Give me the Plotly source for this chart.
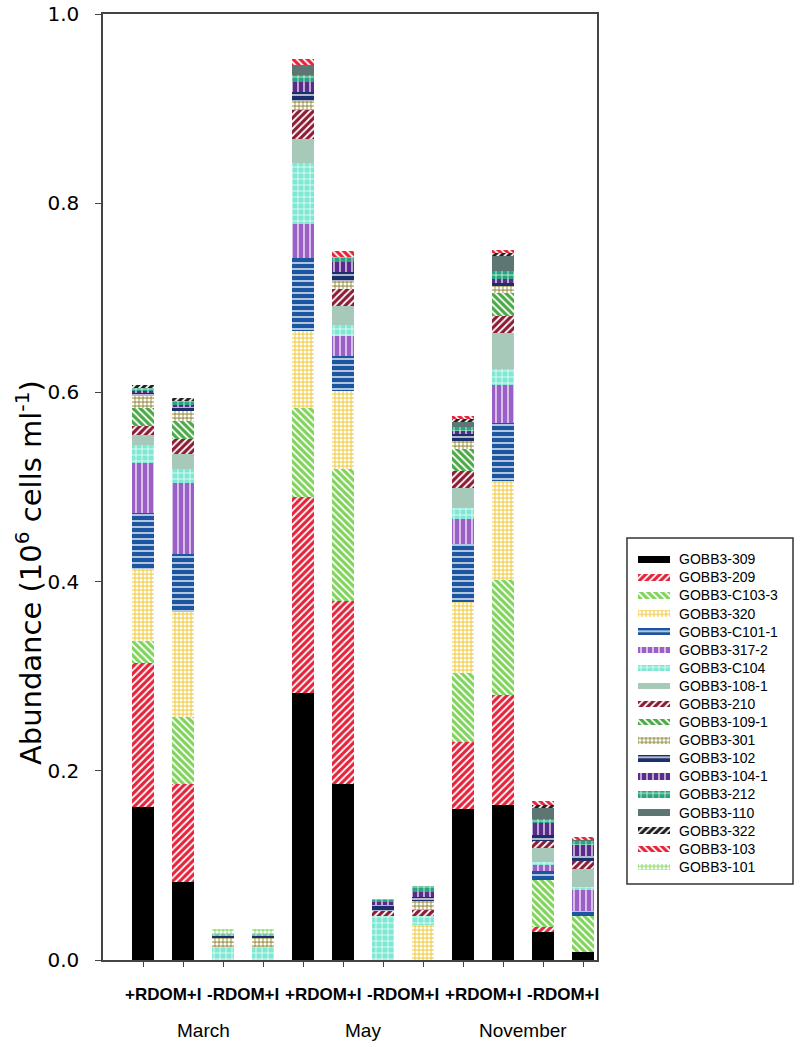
import plotly.graph_objects as go

# ---- data -------------------------------------------------------------
samples = ["Mar+a", "Mar+b", "Mar-a", "Mar-b", "May+a", "May+b",
           "May-a", "May-b", "Nov+a", "Nov+b", "Nov-a", "Nov-b"]
treatments = ["+RDOM+I", "+RDOM+I", "-RDOM+I", "-RDOM+I",
              "+RDOM+I", "+RDOM+I", "-RDOM+I", "-RDOM+I",
              "+RDOM+I", "+RDOM+I", "-RDOM+I", "-RDOM+I"]
months = ["March"] * 4 + ["May"] * 4 + ["November"] * 4

series_names = ["GOBB3-309", "GOBB3-209", "GOBB3-C103-3", "GOBB3-320",
                "GOBB3-C101-1", "GOBB3-317-2", "GOBB3-C104", "GOBB3-108-1",
                "GOBB3-210", "GOBB3-109-1", "GOBB3-301", "GOBB3-102",
                "GOBB3-104-1", "GOBB3-212", "GOBB3-110", "GOBB3-322",
                "GOBB3-103", "GOBB3-101"]

g309 = [0.162, 0.082, 0, 0, 0.282, 0.186, 0, 0, 0.160, 0.164, 0.030, 0.008]
g209 = [0.152, 0.104, 0, 0, 0.207, 0.193, 0, 0, 0.070, 0.116, 0.005, 0]
gC103_3 = [0.023, 0.071, 0, 0, 0.094, 0.140, 0, 0, 0.073, 0.122, 0.050, 0.039]
g320 = [0.076, 0.111, 0, 0, 0.082, 0.083, 0, 0.037, 0.075, 0.104, 0, 0]
gC101_1 = [0.060, 0.061, 0, 0, 0.077, 0.037, 0, 0, 0.062, 0.062, 0.009, 0.005]
g317_2 = [0.052, 0.075, 0, 0, 0.036, 0.021, 0, 0, 0.026, 0.040, 0.006, 0.023]
gC104 = [0.019, 0.015, 0.014, 0.014, 0.065, 0.011, 0.046, 0.010, 0.012, 0.017, 0.004, 0.002]
g108_1 = [0.011, 0.016, 0, 0, 0.025, 0.020, 0, 0, 0.021, 0.038, 0.014, 0.019]
g210 = [0.010, 0.016, 0, 0, 0.030, 0.018, 0.006, 0.006, 0.018, 0.018, 0.008, 0.009]
g109_1 = [0.019, 0.019, 0, 0, 0, 0, 0, 0, 0.023, 0.024, 0, 0]
g301 = [0.012, 0.010, 0.009, 0.009, 0.010, 0.009, 0, 0.009, 0.009, 0.007, 0, 0]
g102 = [0.004, 0.005, 0.003, 0.003, 0.010, 0.009, 0.006, 0.005, 0.007, 0.004, 0.006, 0.005]
g104_1 = [0.001, 0.002, 0, 0, 0.010, 0.011, 0.003, 0.005, 0.003, 0.004, 0.013, 0.012]
g212 = [0.004, 0.004, 0.002, 0.002, 0.008, 0.005, 0.004, 0.006, 0.004, 0.008, 0.004, 0.004]
g110 = [0, 0, 0, 0, 0.010, 0, 0, 0, 0.006, 0.016, 0.012, 0.001]
g322 = [0.003, 0.003, 0, 0, 0, 0, 0, 0, 0.003, 0.003, 0.003, 0]
g103 = [0, 0, 0, 0, 0.006, 0.006, 0, 0, 0.003, 0.004, 0.004, 0.003]
g101 = [0, 0, 0.005, 0.005, 0, 0, 0, 0, 0, 0, 0, 0]

series_values = [g309, g209, gC103_3, g320, gC101_1, g317_2, gC104, g108_1,
                 g210, g109_1, g301, g102, g104_1, g212, g110, g322, g103, g101]

y_ticks = [0.0, 0.2, 0.4, 0.6, 0.8, 1.0]

# ---- styles (colour, pattern shape, pattern size, solidity) ------------
styles = [
    ("#000000", "", 6, 0.3),
    ("#e3243b", "/", 5, 0.35),
    ("#7fd35a", "\\", 5, 0.35),
    ("#f3d567", ".", 4, 0.45),
    ("#1d56a0", "-", 6, 0.22),
    ("#9b5fc8", "|", 6, 0.2),
    ("#7ee8d2", "+", 6, 0.22),
    ("#a6c9b9", "", 6, 0.3),
    ("#8a1c34", "/", 5, 0.35),
    ("#4aa846", "\\", 5, 0.35),
    ("#aaa262", ".", 4, 0.5),
    ("#1a2f6b", "-", 6, 0.22),
    ("#5b2b8c", "|", 6, 0.2),
    ("#27a57c", "+", 6, 0.22),
    ("#5d7573", "", 6, 0.3),
    ("#1f1f1f", "/", 5, 0.35),
    ("#e3243b", "\\", 5, 0.35),
    ("#99e07a", ".", 4, 0.5),
]

FONT = "Liberation Sans, Arial, sans-serif"
WIDE = "DejaVu Sans, sans-serif"

fig = go.Figure()

for name, vals, (col, shp, sz, sol) in zip(series_names, series_values, styles):
    pat = dict(shape=shp, size=sz, solidity=sol, fgcolor="white",
               bgcolor=col, fillmode="replace")
    fig.add_trace(go.Bar(
        x=samples, y=vals, name=name, width=0.57,
        marker=dict(color=col, line=dict(width=0), pattern=pat),
        showlegend=False,
    ))
    # legend swatch drawn on its own small axis
    fig.add_trace(go.Bar(
        x=[1], y=[name], orientation="h", width=0.36,
        xaxis="x2", yaxis="y2", showlegend=False, hoverinfo="skip",
        marker=dict(color=col, line=dict(width=0), pattern=pat),
    ))

# group labels computed from data
annotations = []


def groups(labels):
    out = []
    start = 0
    for i in range(1, len(labels) + 1):
        if i == len(labels) or labels[i] != labels[start]:
            out.append((labels[start], (start + i - 1) / 2))
            start = i
    return out


treat_keys = list(zip(months, treatments))
for key, pos in groups(treat_keys):
    annotations.append(dict(x=pos, y=-0.036, xref="x", yref="paper",
                            text="<b>" + key[1] + "</b>", showarrow=False,
                            font=dict(family=FONT, size=17, color="black"),
                            xanchor="center", yanchor="middle"))
for m, pos in groups(months):
    annotations.append(dict(x=pos, y=-0.074, xref="x", yref="paper",
                            text=m, showarrow=False,
                            font=dict(family=FONT, size=19, color="black"),
                            xanchor="center", yanchor="middle"))

annotations.append(dict(
    x=-0.107, y=0.41, xref="paper", yref="paper",
    text="Abundance (10<sup>6</sup> cells ml<sup>-1</sup>)",
    textangle=-90, showarrow=False,
    font=dict(family=WIDE, size=29, color="black"),
    xanchor="center", yanchor="middle"))

fig.update_layout(
    width=800, height=1047,
    margin=dict(l=103, r=5, t=14, b=87, autoexpand=False),
    paper_bgcolor="white", plot_bgcolor="white",
    barmode="stack",
    showlegend=False,
    font=dict(family=FONT, color="black"),
    xaxis=dict(domain=[0, 0.7139], type="category", categoryorder="array",
               categoryarray=samples, range=[-1.0, 11.35], automargin=False,
               showticklabels=False, ticks="outside", ticklen=5,
               tickcolor="#444", showline=True, linecolor="#444",
               linewidth=1.5, mirror=True, showgrid=False, zeroline=False),
    yaxis=dict(domain=[0, 1], range=[0, 1.0], tickvals=y_ticks,
               tickformat=".1f", ticks="outside", ticklen=6, tickcolor="#444",
               tickfont=dict(family=WIDE, size=20), automargin=False,
               ticklabelstandoff=12,
               showline=True, linecolor="#444", linewidth=1.5, mirror=True,
               showgrid=False, zeroline=False),
    xaxis2=dict(domain=[0.7731, 0.8194], anchor="y2", range=[0, 1],
                visible=False, fixedrange=True),
    yaxis2=dict(domain=[0.0888, 0.4331], anchor="x2", type="category",
                categoryorder="array", categoryarray=series_names,
                range=[len(series_names) - 0.5, -0.5], side="right",
                showline=False, showgrid=False, zeroline=False, ticks="",
                ticklabelstandoff=8, automargin=False,
                tickfont=dict(family=FONT, size=14, color="black")),
    shapes=[dict(type="rect", xref="paper", yref="paper",
                 x0=0.7572, x1=0.9971, y0=0.0803, y1=0.4461,
                 line=dict(color="#333", width=1.5), fillcolor="rgba(0,0,0,0)")],
    annotations=annotations,
)

# remove the browser's default 8px page margin so the 800x1047 figure fills the window
fig.write_html("out.html", config={"displayModeBar": False},
               post_script="document.body.style.margin='0px';")
